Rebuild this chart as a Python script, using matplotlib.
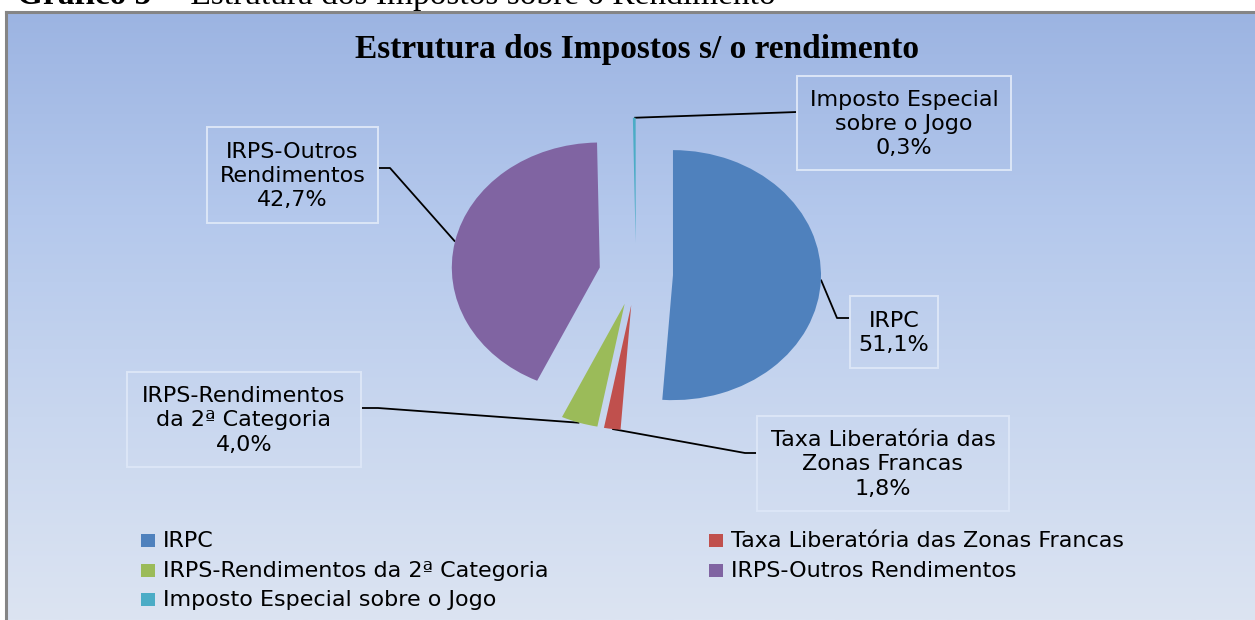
import numpy as np
import matplotlib
matplotlib.use("Agg")
import matplotlib.pyplot as plt
from matplotlib.colors import LinearSegmentedColormap
from matplotlib.patches import Rectangle

# ------------------------------------------------------------------
# Data
# ------------------------------------------------------------------
categories = ["IRPC",
              "Taxa Liberatória das Zonas Francas",
              "IRPS-Rendimentos da 2ª Categoria",
              "IRPS-Outros Rendimentos",
              "Imposto Especial sobre o Jogo"]
shares = [51.1, 1.8, 4.0, 42.7, 0.3]
box_text = ["IRPC",
            "Taxa Liberatória das\nZonas Francas",
            "IRPS-Rendimentos\nda 2ª Categoria",
            "IRPS-Outros\nRendimentos",
            "Imposto Especial\nsobre o Jogo"]
colors = ["#4F81BD", "#C0504D", "#9BBB59", "#8064A2", "#4BACC6"]

title = "Estrutura dos Impostos s/ o rendimento"

# ------------------------------------------------------------------
# Layout (image pixels, y measured from the top)
# ------------------------------------------------------------------
W, H = 1255, 620
FONT = "DejaVu Sans"
FS = 16

# label boxes: x0, y0, x1, y1
boxes = [(850, 296, 938, 368),
         (757, 416, 1009, 511),
         (127, 372, 361, 467),
         (207, 127, 378, 223),
         (797, 76, 1011, 170)]
# leader line points after the slice anchor
leaders = [[(837, 318), (850, 318)],
           [(745, 453), (757, 453)],
           [(378, 408), (361, 408)],
           [(390, 168), (378, 168)],
           [(797, 112)]]
legend_pos = [(141, 541), (709, 541), (141, 571), (709, 571), (141, 600)]

fig = plt.figure(figsize=(W / 100, H / 100), dpi=100)

# background / overlay axes in pixel coordinates
bg = fig.add_axes([0, 0, 1, 1])
cmap = LinearSegmentedColormap.from_list(
    "bg", ["#9CB4E2", "#B4C8EC", "#C9D7EF", "#DCE4F2"])
grad = np.linspace(0, 1, 256).reshape(-1, 1)
bg.imshow(grad, extent=[6, W, H, 12], cmap=cmap, aspect="auto", zorder=0)
bg.plot([6, 6], [12, H], color="#858585", lw=2.2, zorder=1)
bg.plot([6, W], [12, 12], color="#858585", lw=2.2, zorder=1)
bg.set_xlim(0, W)
bg.set_ylim(H, 0)
bg.axis("off")

# heading of the page above the chart (cut by the top edge, as in the scan)
bg.text(17, 4, "Gráfico 5", fontfamily="Liberation Serif", fontweight="bold",
        fontsize=24, va="baseline", ha="left", clip_on=False)
bg.text(157, 4, "–  Estrutura dos Impostos sobre o Rendimento",
        fontfamily="Liberation Serif", fontsize=24, va="baseline", ha="left",
        clip_on=False)

bg.text(637, 58, title, fontfamily="Liberation Serif", fontweight="bold",
        fontsize=24, ha="center", va="baseline")

# ------------------------------------------------------------------
# Pie (stretched horizontally like the original)
# ------------------------------------------------------------------
cx, cy, rx, ry = 636, 274, 148, 125
ax = fig.add_axes([(cx - 2 * rx) / W, (H - cy - 2 * ry) / H, 4 * rx / W, 4 * ry / H])
ax.patch.set_alpha(0)
wedges, _ = ax.pie(shares, colors=colors, startangle=90, counterclock=False,
                   explode=[0.25] * len(shares), radius=1,
                   wedgeprops=dict(linewidth=0))
ax.set_aspect("auto")
ax.set_xlim(-2, 2)
ax.set_ylim(-2, 2)
ax.axis("off")

to_bg = ax.transData + bg.transData.inverted()
for i, w in enumerate(wedges):
    mid = np.deg2rad((w.theta1 + w.theta2) / 2)
    px, py = to_bg.transform((w.center[0] + w.r * np.cos(mid),
                              w.center[1] + w.r * np.sin(mid)))
    pts = [(px, py)] + leaders[i]
    bg.plot([p[0] for p in pts], [p[1] for p in pts], color="black",
            lw=1.3, zorder=3, solid_capstyle="butt")

    x0, y0, x1, y1 = boxes[i]
    bg.add_patch(Rectangle((x0, y0), x1 - x0, y1 - y0, facecolor="none",
                           edgecolor="#DCE6F7", lw=1.4, zorder=3))
    pct = f"{shares[i]:.1f}".replace(".", ",") + "%"
    bg.text((x0 + x1) / 2, (y0 + y1) / 2 + 1, box_text[i] + "\n" + pct,
            fontfamily=FONT, fontsize=FS, ha="center", va="center",
            linespacing=1.28, zorder=4)

# ------------------------------------------------------------------
# Legend
# ------------------------------------------------------------------
for (lx, ly), name, c in zip(legend_pos, categories, colors):
    bg.add_patch(Rectangle((lx, ly - 7), 14, 13, facecolor=c, lw=0, zorder=3))
    bg.text(lx + 22, ly, name, fontfamily=FONT, fontsize=FS, ha="left",
            va="center", zorder=4)

fig.savefig("out.png", dpi=100)
